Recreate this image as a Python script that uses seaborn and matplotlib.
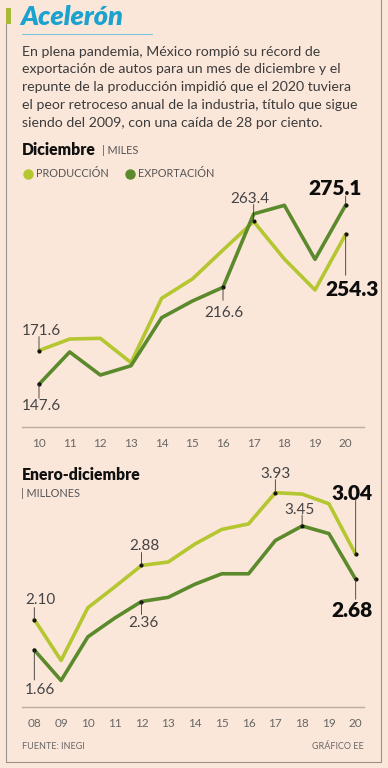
import numpy as np
import pandas as pd
import matplotlib
matplotlib.use("Agg")
import matplotlib.pyplot as plt
import seaborn as sns
from matplotlib.lines import Line2D

# ---------------- data ----------------
dic_years = [10, 11, 12, 13, 14, 15, 16, 17, 18, 19, 20]
dic_tick_labels = ["10", "11", "12", "13", "14", "15", "16", "17", "18", "19", "20"]
dic_produccion = [171.6, 179.8, 180.3, 163.0, 208.8, 222.5, 243.1, 263.4, 236.7, 214.7, 254.3]
dic_exportacion = [147.6, 170.6, 154.2, 160.8, 195.0, 206.8, 216.6, 268.8, 274.9, 236.5, 275.1]

anual_years = [8, 9, 10, 11, 12, 13, 14, 15, 16, 17, 18, 19, 20]
anual_tick_labels = ["08", "09", "10", "11", "12", "13", "14", "15", "16", "17", "18", "19", "20"]
anual_produccion = [2.10, 1.51, 2.27, 2.57, 2.88, 2.93, 3.19, 3.40, 3.48, 3.93, 3.91, 3.77, 3.04]
anual_exportacion = [1.66, 1.22, 1.85, 2.12, 2.36, 2.42, 2.61, 2.76, 2.76, 3.24, 3.45, 3.34, 2.68]

series_names = ["PRODUCCIÓN", "EXPORTACIÓN"]

# ---------------- style ----------------
BG = "#fbe7da"
C_PROD = "#b4c630"
C_EXP = "#5b8a2c"
TXT = "#3c3c3c"
FONT = ["Lato", "DejaVu Sans"]

sns.set_theme(style="white")
plt.rcParams["font.family"] = FONT

W, H = 388, 768
fig = plt.figure(figsize=(W / 100, H / 100), dpi=100)
fig.patch.set_facecolor(BG)


def fx(x):
    return x / W


def fy(y):
    return 1 - y / H


def ftext(x, y, s, **kw):
    kw.setdefault("va", "center")
    kw.setdefault("ha", "left")
    return fig.text(fx(x), fy(y), s, **kw)


def fline(xs, ys, **kw):
    fig.add_artist(Line2D([fx(v) for v in xs], [fy(v) for v in ys],
                          transform=fig.transFigure, **kw))


# frame and decorations
fline([6, 6], [24, 762], color="#9a9089", lw=0.8)
fline([6, 381], [762, 762], color="#9a9089", lw=0.8)
fline([381, 381], [0, 762], color="#9a9089", lw=0.8)
fig.add_artist(plt.Rectangle((fx(6), fy(24)), fx(5), 16 / H, transform=fig.transFigure,
                             color="#a8b937", lw=0))
fline([22, 152], [33.5, 33.5], color="#7cc6de", lw=0.8)

ftext(20, 17, "Acelerón", fontsize=19.5, fontweight="heavy", fontstyle="italic",
      color="#1ba2cf")

body = ["En plena pandemia, México rompió su récord de",
        "exportación de autos para un mes de diciembre y el",
        "repunte de la producción impidió que el 2020 tuviera",
        "el peor retroceso anual de la industria, título que sigue",
        "siendo del 2009, con una caída de 28 por ciento."]
for i, line in enumerate(body):
    ftext(22, 51.5 + i * 17.8, line, fontsize=10.2, color=TXT)

# chart 1 header
ftext(22, 150, "Diciembre", fontsize=11.3, fontweight="heavy", color="#111111")
ftext(102, 150, "| MILES", fontsize=7.8, color="#555555")

# legend
for (x, name, col) in [(28, series_names[0], C_PROD), (130, series_names[1], C_EXP)]:
    fline([x], [173.5], marker="o", markersize=6.5, color=col, lw=0)
    ftext(x + 8, 173.5, name, fontsize=7.8, color="#555555")

# chart 2 header
ftext(22, 475, "Enero-diciembre", fontsize=11.3, fontweight="heavy", color="#111111")
ftext(21, 493.5, "| MILLONES", fontsize=7.8, color="#555555")

# footer
ftext(22, 746.5, "FUENTE: INEGI", fontsize=6.5, color="#666666")
ftext(364, 746.5, "GRÁFICO EE", fontsize=6.5, color="#666666", ha="right")


def make_axes(left_px, right_px, top_px, bottom_px):
    ax = fig.add_axes([fx(left_px), fy(bottom_px), (right_px - left_px) / W,
                       (bottom_px - top_px) / H])
    ax.set_facecolor("none")
    for s in ["top", "left", "right"]:
        ax.spines[s].set_visible(False)
    ax.spines["bottom"].set_color("#b9aca1")
    ax.spines["bottom"].set_linewidth(1.0)
    ax.set_yticks([])
    return ax


def draw(ax, years, prod, exp, ticklabels):
    df = pd.DataFrame({
        "year": years * 2,
        "value": prod + exp,
        "serie": [series_names[0]] * len(years) + [series_names[1]] * len(years),
    })
    sns.lineplot(data=df, x="year", y="value", hue="serie",
                 palette={series_names[0]: C_PROD, series_names[1]: C_EXP},
                 linewidth=2.6, legend=False, ax=ax, sort=False)
    ax.set_xticks(years)
    ax.set_xticklabels(ticklabels)
    ax.tick_params(axis="x", length=0, pad=8, labelsize=8.5, labelcolor="#666666")
    ax.set_xlabel("")
    ax.set_ylabel("")


def label(ax, x, v, text, tick_px, text_dx, text_dy, bold=False):
    # offsets given in pixels (positive = downward)
    k = 0.72
    ax.annotate("", xy=(x, v), xytext=(0, -tick_px * k), textcoords="offset points",
                arrowprops=dict(arrowstyle="-", lw=0.6, color="#333333",
                                shrinkA=0, shrinkB=0))
    ax.plot([x], [v], marker="o", markersize=2, color="#111111", lw=0)
    if bold:
        ax.annotate(text, xy=(x, v), xytext=(text_dx * k, -text_dy * k),
                    textcoords="offset points", ha="center", va="center",
                    fontsize=15, fontweight="heavy", color="#0d0d0d")
    else:
        ax.annotate(text, xy=(x, v), xytext=(text_dx * k, -text_dy * k),
                    textcoords="offset points", ha="center", va="center",
                    fontsize=11, color="#444444")


# ---------------- chart 1: diciembre ----------------
ax1 = make_axes(22, 364, 170, 427)
draw(ax1, dic_years, dic_produccion, dic_exportacion, dic_tick_labels)
ax1.set_xlim(9.446, 20.597)
ax1.set_ylim(147.6 - (427 - 384.3) / 1.406, 147.6 + (384.3 - 170) / 1.406)

label(ax1, 10, dic_produccion[0], f"{dic_produccion[0]:.1f}", -14, 2, -20)
label(ax1, 10, dic_exportacion[0], f"{dic_exportacion[0]:.1f}", 14, 2, 22)
label(ax1, 16, dic_exportacion[6], f"{dic_exportacion[6]:.1f}", 13, 1, 26)
label(ax1, 17, dic_produccion[7], f"{dic_produccion[7]:.1f}", -17, -4, -22)
label(ax1, 20, dic_exportacion[10], f"{dic_exportacion[10]:.1f}", -9, -11, -17, bold=True)
label(ax1, 20, dic_produccion[10], f"{dic_produccion[10]:.1f}", 41, 6, 55, bold=True)

# ---------------- chart 2: enero-diciembre ----------------
ax2 = make_axes(22, 364, 470, 706.7)
draw(ax2, anual_years, anual_produccion, anual_exportacion, anual_tick_labels)
ax2.set_xlim(7.541, 20.31)
ax2.set_ylim(3.93 - (706.7 - 492.7) / 69.3, 3.93 + (492.7 - 470) / 69.3)

label(ax2, 8, anual_produccion[0], f"{anual_produccion[0]:.2f}", -12, 6, -20)
label(ax2, 8, anual_exportacion[0], f"{anual_exportacion[0]:.2f}", 30, 6, 40)
label(ax2, 12, anual_produccion[4], f"{anual_produccion[4]:.2f}", -13, 3, -19)
label(ax2, 12, anual_exportacion[4], f"{anual_exportacion[4]:.2f}", 13, 2, 21)
label(ax2, 17, anual_produccion[9], f"{anual_produccion[9]:.2f}", -13, 0, -19)
label(ax2, 18, anual_exportacion[10], f"{anual_exportacion[10]:.2f}", -11, -3, -16)
label(ax2, 20, anual_produccion[12], f"{anual_produccion[12]:.2f}", -54, -4, -61, bold=True)
label(ax2, 20, anual_exportacion[12], f"{anual_exportacion[12]:.2f}", 20, -4, 31, bold=True)

fig.savefig("out.png", dpi=100, facecolor=BG)
